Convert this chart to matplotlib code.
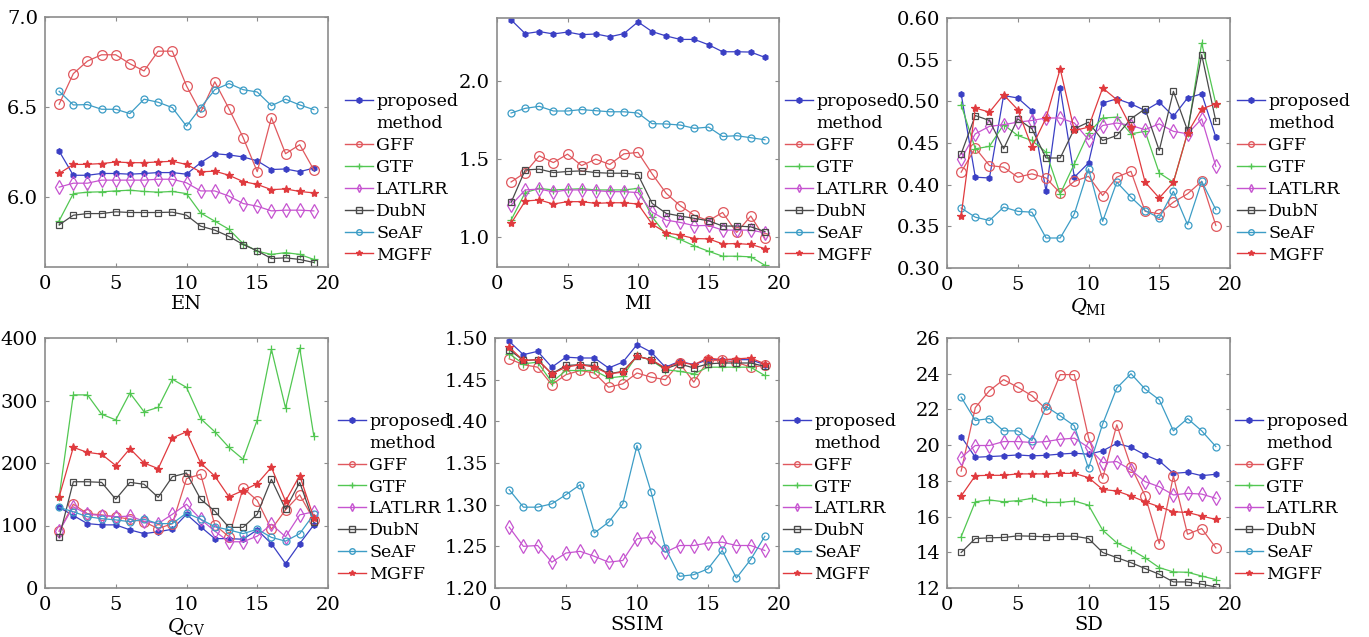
import matplotlib
matplotlib.use("Agg")
import matplotlib.pyplot as plt
from matplotlib.lines import Line2D

plt.rcParams['font.family'] = ['DejaVu Serif']
plt.rcParams['mathtext.fontset'] = 'dejavuserif'

x = list(range(1, 20))
methods = ["proposed", "GFF", "GTF", "LATLRR", "DubN", "SeAF", "MGFF"]

# ---------------- data ----------------
en_proposed = [6.254, 6.12, 6.12, 6.13, 6.13, 6.126, 6.13, 6.135, 6.135, 6.126, 6.19, 6.24, 6.233, 6.222, 6.20, 6.152, 6.155, 6.14, 6.16]
en_gff = [6.515, 6.685, 6.755, 6.79, 6.79, 6.74, 6.70, 6.81, 6.81, 6.617, 6.47, 6.64, 6.49, 6.33, 6.14, 6.44, 6.24, 6.29, 6.15]
en_gtf = [5.867, 6.018, 6.026, 6.028, 6.033, 6.037, 6.03, 6.026, 6.03, 6.018, 5.91, 5.865, 5.82, 5.74, 5.698, 5.68, 5.69, 5.68, 5.652]
en_latlrr = [6.054, 6.076, 6.076, 6.093, 6.093, 6.093, 6.093, 6.098, 6.098, 6.078, 6.033, 6.033, 6.004, 5.963, 5.948, 5.922, 5.926, 5.926, 5.922]
en_dubn = [5.844, 5.898, 5.907, 5.907, 5.917, 5.913, 5.913, 5.913, 5.915, 5.898, 5.837, 5.815, 5.78, 5.735, 5.70, 5.657, 5.661, 5.652, 5.635]
en_seaf = [6.587, 6.511, 6.513, 6.487, 6.487, 6.463, 6.543, 6.526, 6.496, 6.393, 6.496, 6.596, 6.63, 6.596, 6.583, 6.507, 6.543, 6.511, 6.485]
en_mgff = [6.13, 6.18, 6.181, 6.185, 6.194, 6.19, 6.19, 6.194, 6.198, 6.18, 6.139, 6.143, 6.12, 6.085, 6.069, 6.04, 6.044, 6.03, 6.022]

mi_proposed = [2.388, 2.30, 2.313, 2.298, 2.31, 2.293, 2.298, 2.28, 2.30, 2.375, 2.313, 2.285, 2.263, 2.263, 2.229, 2.184, 2.184, 2.182, 2.148]
mi_gff = [1.351, 1.411, 1.518, 1.475, 1.529, 1.456, 1.497, 1.463, 1.531, 1.54, 1.403, 1.278, 1.199, 1.137, 1.103, 1.156, 1.028, 1.133, 0.991]
mi_gtf = [1.107, 1.283, 1.31, 1.30, 1.304, 1.308, 1.30, 1.30, 1.30, 1.31, 1.128, 1.011, 0.983, 0.942, 0.908, 0.876, 0.876, 0.872, 0.818]
mi_latlrr = [1.203, 1.30, 1.306, 1.287, 1.30, 1.30, 1.296, 1.289, 1.289, 1.283, 1.158, 1.107, 1.092, 1.071, 1.073, 1.043, 1.043, 1.043, 1.026]
mi_dubn = [1.22, 1.428, 1.433, 1.411, 1.418, 1.422, 1.411, 1.407, 1.407, 1.398, 1.214, 1.15, 1.133, 1.118, 1.103, 1.069, 1.069, 1.064, 1.034]
mi_seaf = [1.792, 1.822, 1.835, 1.805, 1.805, 1.814, 1.807, 1.80, 1.80, 1.792, 1.724, 1.722, 1.715, 1.694, 1.702, 1.642, 1.647, 1.634, 1.621]
mi_mgff = [1.086, 1.229, 1.236, 1.21, 1.225, 1.225, 1.214, 1.218, 1.218, 1.21, 1.081, 1.026, 1.011, 0.989, 0.987, 0.955, 0.957, 0.951, 0.925]

qmi_proposed = [0.509, 0.409, 0.408, 0.507, 0.504, 0.489, 0.392, 0.516, 0.409, 0.426, 0.498, 0.503, 0.497, 0.489, 0.499, 0.482, 0.504, 0.509, 0.457]
qmi_gff = [0.415, 0.444, 0.423, 0.421, 0.409, 0.413, 0.408, 0.39, 0.404, 0.41, 0.387, 0.409, 0.416, 0.368, 0.365, 0.379, 0.389, 0.404, 0.351]
qmi_gtf = [0.496, 0.443, 0.446, 0.472, 0.459, 0.453, 0.439, 0.389, 0.425, 0.462, 0.480, 0.481, 0.461, 0.464, 0.414, 0.403, 0.462, 0.57, 0.497]
qmi_latlrr = [0.431, 0.461, 0.47, 0.472, 0.475, 0.477, 0.48, 0.48, 0.474, 0.454, 0.471, 0.474, 0.471, 0.466, 0.473, 0.464, 0.461, 0.479, 0.422]
qmi_dubn = [0.437, 0.483, 0.477, 0.443, 0.479, 0.467, 0.432, 0.432, 0.467, 0.475, 0.453, 0.459, 0.479, 0.491, 0.441, 0.512, 0.465, 0.556, 0.476]
qmi_seaf = [0.372, 0.361, 0.357, 0.373, 0.368, 0.367, 0.336, 0.336, 0.365, 0.419, 0.356, 0.403, 0.385, 0.369, 0.360, 0.392, 0.352, 0.404, 0.37]
qmi_mgff = [0.363, 0.492, 0.487, 0.508, 0.49, 0.445, 0.48, 0.539, 0.465, 0.469, 0.516, 0.502, 0.469, 0.403, 0.384, 0.403, 0.462, 0.491, 0.497]

qcv_proposed = [129, 116, 103, 101, 101, 93, 87, 90, 94, 118, 98, 79, 79, 78, 93, 71, 39, 71, 101]
qcv_gff = [91, 134, 119, 117, 114, 110, 106, 95, 103, 175, 182, 101, 82, 160, 140, 94, 125, 149, 109]
qcv_gtf = [146, 309, 309, 278, 269, 312, 282, 289, 334, 321, 271, 250, 225, 206, 269, 382, 288, 384, 243]
qcv_latlrr = [91, 130, 118, 116, 114, 115, 107, 103, 118, 134, 110, 91, 74, 74, 83, 102, 82, 117, 122]
qcv_dubn = [81, 170, 170, 169, 142, 169, 166, 145, 178, 184, 142, 123, 97, 97, 118, 174, 126, 169, 105]
qcv_seaf = [129, 122, 114, 111, 109, 106, 110, 103, 103, 120, 110, 98, 93, 87, 94, 81, 75, 87, 118]
qcv_mgff = [146, 225, 217, 214, 196, 223, 200, 191, 240, 250, 200, 179, 146, 156, 167, 193, 139, 180, 112]

ssim_proposed = [1.496, 1.48, 1.484, 1.465, 1.477, 1.476, 1.476, 1.464, 1.471, 1.492, 1.483, 1.465, 1.472, 1.468, 1.474, 1.474, 1.474, 1.474, 1.468]
ssim_gff = [1.475, 1.468, 1.465, 1.444, 1.456, 1.461, 1.458, 1.441, 1.445, 1.458, 1.453, 1.45, 1.47, 1.447, 1.473, 1.473, 1.471, 1.465, 1.467]
ssim_gtf = [1.481, 1.469, 1.471, 1.447, 1.461, 1.461, 1.461, 1.452, 1.454, 1.479, 1.473, 1.462, 1.46, 1.457, 1.465, 1.465, 1.465, 1.465, 1.455]
ssim_latlrr = [1.273, 1.25, 1.251, 1.231, 1.242, 1.244, 1.238, 1.231, 1.233, 1.259, 1.261, 1.243, 1.251, 1.251, 1.254, 1.255, 1.251, 1.251, 1.245]
ssim_dubn = [1.486, 1.473, 1.474, 1.457, 1.467, 1.468, 1.467, 1.457, 1.46, 1.478, 1.474, 1.463, 1.469, 1.464, 1.469, 1.47, 1.47, 1.47, 1.466]
ssim_seaf = [1.318, 1.297, 1.297, 1.301, 1.312, 1.324, 1.266, 1.279, 1.301, 1.371, 1.315, 1.248, 1.214, 1.216, 1.223, 1.245, 1.212, 1.234, 1.262]
ssim_mgff = [1.489, 1.473, 1.474, 1.457, 1.465, 1.468, 1.465, 1.457, 1.459, 1.478, 1.474, 1.464, 1.471, 1.468, 1.476, 1.474, 1.475, 1.476, 1.469]

sd_proposed = [20.48, 19.32, 19.36, 19.4, 19.45, 19.4, 19.43, 19.5, 19.55, 19.49, 19.68, 20.1, 19.88, 19.45, 19.12, 18.42, 18.48, 18.29, 18.37]
sd_gff = [18.55, 22.1, 23.05, 23.67, 23.24, 22.77, 22.02, 23.95, 23.95, 20.43, 18.14, 21.14, 18.8, 17.17, 14.49, 18.27, 15.01, 15.33, 14.25]
sd_gtf = [14.87, 16.83, 16.93, 16.83, 16.89, 17.02, 16.79, 16.79, 16.87, 16.64, 15.24, 14.53, 14.15, 13.69, 13.14, 12.9, 12.88, 12.67, 12.47]
sd_latlrr = [19.3, 19.98, 19.98, 20.2, 20.2, 20.15, 20.2, 20.33, 20.39, 19.87, 19.02, 19.08, 18.61, 17.96, 17.67, 17.21, 17.3, 17.26, 17.02]
sd_dubn = [13.99, 14.77, 14.81, 14.83, 14.92, 14.9, 14.87, 14.9, 14.9, 14.77, 13.99, 13.7, 13.42, 13.09, 12.77, 12.34, 12.34, 12.21, 12.06]
sd_seaf = [22.69, 21.38, 21.49, 20.8, 20.8, 20.26, 22.17, 21.64, 21.08, 18.7, 21.18, 23.2, 24.0, 23.14, 22.54, 20.8, 21.49, 20.8, 19.92]
sd_mgff = [17.15, 18.29, 18.31, 18.31, 18.39, 18.39, 18.39, 18.42, 18.42, 18.18, 17.52, 17.43, 17.15, 16.83, 16.55, 16.27, 16.23, 16.03, 15.84]

panels = [
    ("EN", [en_proposed, en_gff, en_gtf, en_latlrr, en_dubn, en_seaf, en_mgff], (5.61, 7.0), [6.0, 6.5, 7.0], "%.1f"),
    ("MI", [mi_proposed, mi_gff, mi_gtf, mi_latlrr, mi_dubn, mi_seaf, mi_mgff], (0.807, 2.40), [1.0, 1.5, 2.0], "%.1f"),
    (r"$Q_{\mathrm{MI}}$", [qmi_proposed, qmi_gff, qmi_gtf, qmi_latlrr, qmi_dubn, qmi_seaf, qmi_mgff], (0.30, 0.60), [0.30, 0.35, 0.40, 0.45, 0.50, 0.55, 0.60], "%.2f"),
    (r"$Q_{\mathrm{CV}}$", [qcv_proposed, qcv_gff, qcv_gtf, qcv_latlrr, qcv_dubn, qcv_seaf, qcv_mgff], (0, 400), [0, 100, 200, 300, 400], "%d"),
    ("SSIM", [ssim_proposed, ssim_gff, ssim_gtf, ssim_latlrr, ssim_dubn, ssim_seaf, ssim_mgff], (1.20, 1.50), [1.20, 1.25, 1.30, 1.35, 1.40, 1.45, 1.50], "%.2f"),
    ("SD", [sd_proposed, sd_gff, sd_gtf, sd_latlrr, sd_dubn, sd_seaf, sd_mgff], (12, 26), [12, 14, 16, 18, 20, 22, 24, 26], "%d"),
]

styles = [
    dict(color='#3a3fc4', marker='h', ms=4, mfc='#3a3fc4', mec='#3a3fc4'),
    dict(color='#e0585e', marker='o', ms=7, mfc='none', mec='#e0585e'),
    dict(color='#52c752', marker='+', ms=6, mfc='none', mec='#52c752'),
    dict(color='#c654d0', marker='d', ms=7, mfc='none', mec='#c654d0'),
    dict(color='#4a4a4a', marker='s', ms=5, mfc='none', mec='#4a4a4a'),
    dict(color='#3d9dc6', marker='o', ms=5, mfc='none', mec='#3d9dc6'),
    dict(color='#e03a3e', marker='*', ms=6, mfc='#e03a3e', mec='#e03a3e'),
]

W, H = 1369, 637
fig = plt.figure(figsize=(W / 100, H / 100), dpi=100)

# axes boxes in pixels: (left, right, top, bottom)
boxes = [(45, 328, 17, 267), (497, 779, 18, 267), (947, 1230, 18, 268),
         (45, 328, 338, 588), (495, 779, 338, 588), (947, 1230, 338, 588)]
leg_x = [345, 785, 1237, 338, 783, 1235]
leg_yc = [178.5, 178.5, 178.5, 498, 498, 498]

for i, (name, series, ylim, yticks, fmt) in enumerate(panels):
    l, r, t, b = boxes[i]
    ax = fig.add_axes([l / W, 1 - b / H, (r - l) / W, (b - t) / H])
    handles = []
    for s, st in zip(series, styles):
        h, = ax.plot(x, s, lw=0.9, color=st['color'], marker=st['marker'],
                     ms=st['ms'], mfc=st['mfc'], mec=st['mec'], mew=0.9)
        handles.append(h)
    ax.set_xlim(0, 20)
    ax.set_ylim(*ylim)
    ax.set_xticks([0, 5, 10, 15, 20])
    ax.set_yticks(yticks)
    ax.set_yticklabels([fmt % v for v in yticks])
    ax.tick_params(direction='in', length=3, width=0.8, color='#8c8c8c',
                   labelsize=14, top=True, right=True)
    ax.tick_params(axis='x', pad=6)
    ax.tick_params(axis='y', pad=5)
    for sp in ax.spines.values():
        sp.set_color('#8c8c8c')
        sp.set_linewidth(1.2)
    ax.set_xlabel(name, fontsize=14, labelpad=1)

    blank = Line2D([], [], linestyle='none', marker=None)
    labels = ["proposed", "method", "GFF", "GTF", "LATLRR", "DubN", "SeAF", "MGFF"]
    hs = [handles[0], blank] + handles[1:]
    leg_handles = []
    for h in hs:
        if h is blank:
            leg_handles.append(h)
        else:
            leg_handles.append(Line2D([], [], color=h.get_color(), lw=1.0,
                                      marker=h.get_marker(), ms=4,
                                      mfc=h.get_markerfacecolor(),
                                      mec=h.get_markeredgecolor()))
    fig.legend(leg_handles, labels, loc='center left',
               bbox_to_anchor=(leg_x[i] / W, 1 - leg_yc[i] / H),
               frameon=False, fontsize=12.5, handlelength=1.6,
               handletextpad=0.2, labelspacing=0.28, borderpad=0,
               borderaxespad=0)

fig.savefig("out.png", dpi=100)
